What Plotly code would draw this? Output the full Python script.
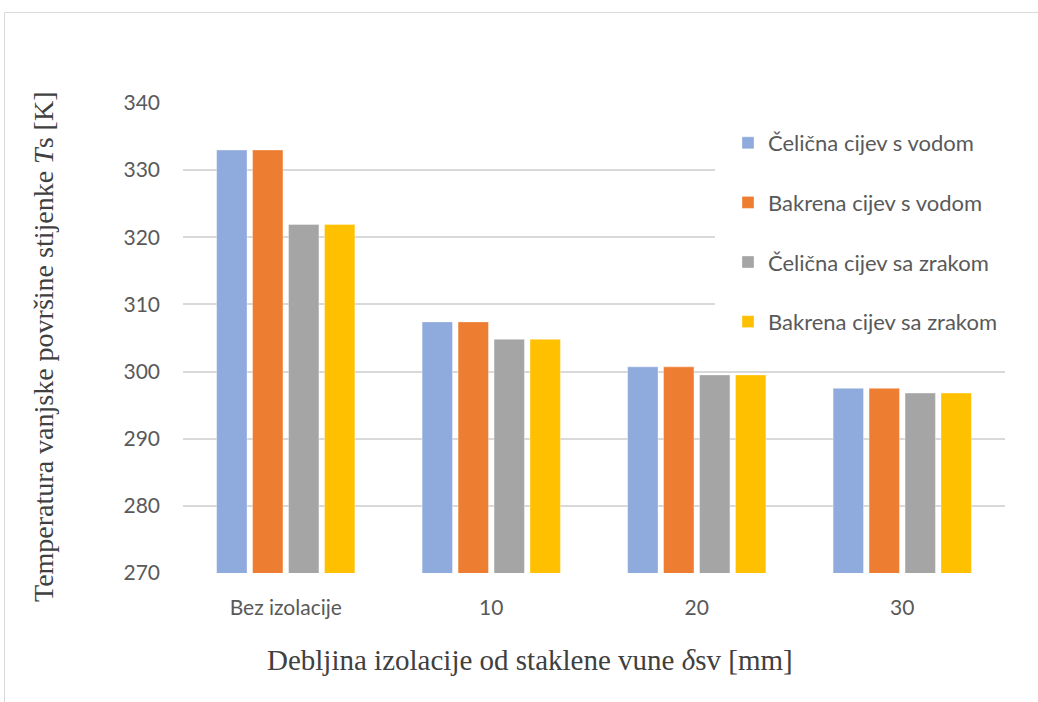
import plotly.graph_objects as go

categories = ["Bez izolacije", "10", "20", "30"]
series_names = ["Čelična cijev s vodom", "Bakrena cijev s vodom",
                "Čelična cijev sa zrakom", "Bakrena cijev sa zrakom"]
celik_voda = [333.0, 307.4, 300.7, 297.5]
bakar_voda = [333.0, 307.4, 300.7, 297.5]
celik_zrak = [321.9, 304.8, 299.5, 296.8]
bakar_zrak = [321.9, 304.8, 299.5, 296.8]
y_ticks = [270, 280, 290, 300, 310, 320, 330, 340]

colors = ["#8faadc", "#ed7d31", "#a5a5a5", "#ffc000"]
series = [celik_voda, bakar_voda, celik_zrak, bakar_zrak]

W, H = 1038, 702
L, R, T, B = 183, 33, 103, 129
pw, ph = W - L - R, H - T - B

def px(x):
    return (x - L) / pw

def py(y):
    return (H - B - y) / ph

fig = go.Figure()
for i, (name, vals) in enumerate(zip(series_names, series)):
    fig.add_trace(go.Bar(
        x=categories, y=vals, name=name,
        marker=dict(color=colors[i], line=dict(color="rgba(255,255,255,0.35)", width=1)),
        legendgroup=f"g{i}",
    ))

fig.update_layout(
    width=W, height=H,
    margin=dict(l=L, r=R, t=T, b=B),
    paper_bgcolor="white", plot_bgcolor="white",
    barmode="group", bargap=0.3, bargroupgap=0.155,
    font=dict(family="Lato, 'Open Sans', sans-serif", color="#595959", size=21),
    showlegend=True,
    legend=dict(
        x=px(728), y=py(122), xanchor="left", yanchor="top",
        bgcolor="rgba(0,0,0,0)", borderwidth=0,
        font=dict(family="Lato, 'Open Sans', sans-serif", size=22, color="#595959"),
        traceorder="grouped", tracegroupgap=28,
    ),
    xaxis=dict(
        type="category", showgrid=False, zeroline=False, showline=False,
        ticks="", ticklabelstandoff=20,
        tickfont=dict(size=21, color="#595959"),
    ),
    yaxis=dict(
        range=[270, 340], tickvals=y_ticks, showgrid=True,
        gridcolor="#d9d9d9", gridwidth=1.5, zeroline=False, showline=False,
        ticks="", ticklabelstandoff=22,
        tickfont=dict(size=21, color="#595959"),
    ),
    annotations=[
        dict(text="Temperatura vanjske površine stijenke <i>T</i>s [K]",
             x=px(43), y=py(347), xref="paper", yref="paper",
             textangle=-90, showarrow=False, xanchor="center", yanchor="middle",
             font=dict(family="'Liberation Serif', 'Times New Roman', serif", size=28, color="#404040")),
        dict(text="Debljina izolacije od staklene vune <i>δ</i>sv [mm]",
             x=px(530), y=py(660), xref="paper", yref="paper",
             showarrow=False, xanchor="center", yanchor="middle",
             font=dict(family="'Liberation Serif', 'Times New Roman', serif", size=29, color="#404040")),
    ],
    shapes=[
        dict(type="rect", xref="paper", yref="paper",
             x0=px(4.5), x1=px(1100), y0=py(760), y1=py(12.5),
             line=dict(color="#d9d9d9", width=1), fillcolor="rgba(0,0,0,0)", layer="below"),
        dict(type="rect", xref="paper", yref="paper",
             x0=px(715), x1=px(1008), y0=py(352), y1=py(110),
             line=dict(width=0), fillcolor="white", layer="above"),
    ],
)

fig.write_html("out.html", config={"displayModeBar": False},
               post_script="document.body.style.margin='0px';")
